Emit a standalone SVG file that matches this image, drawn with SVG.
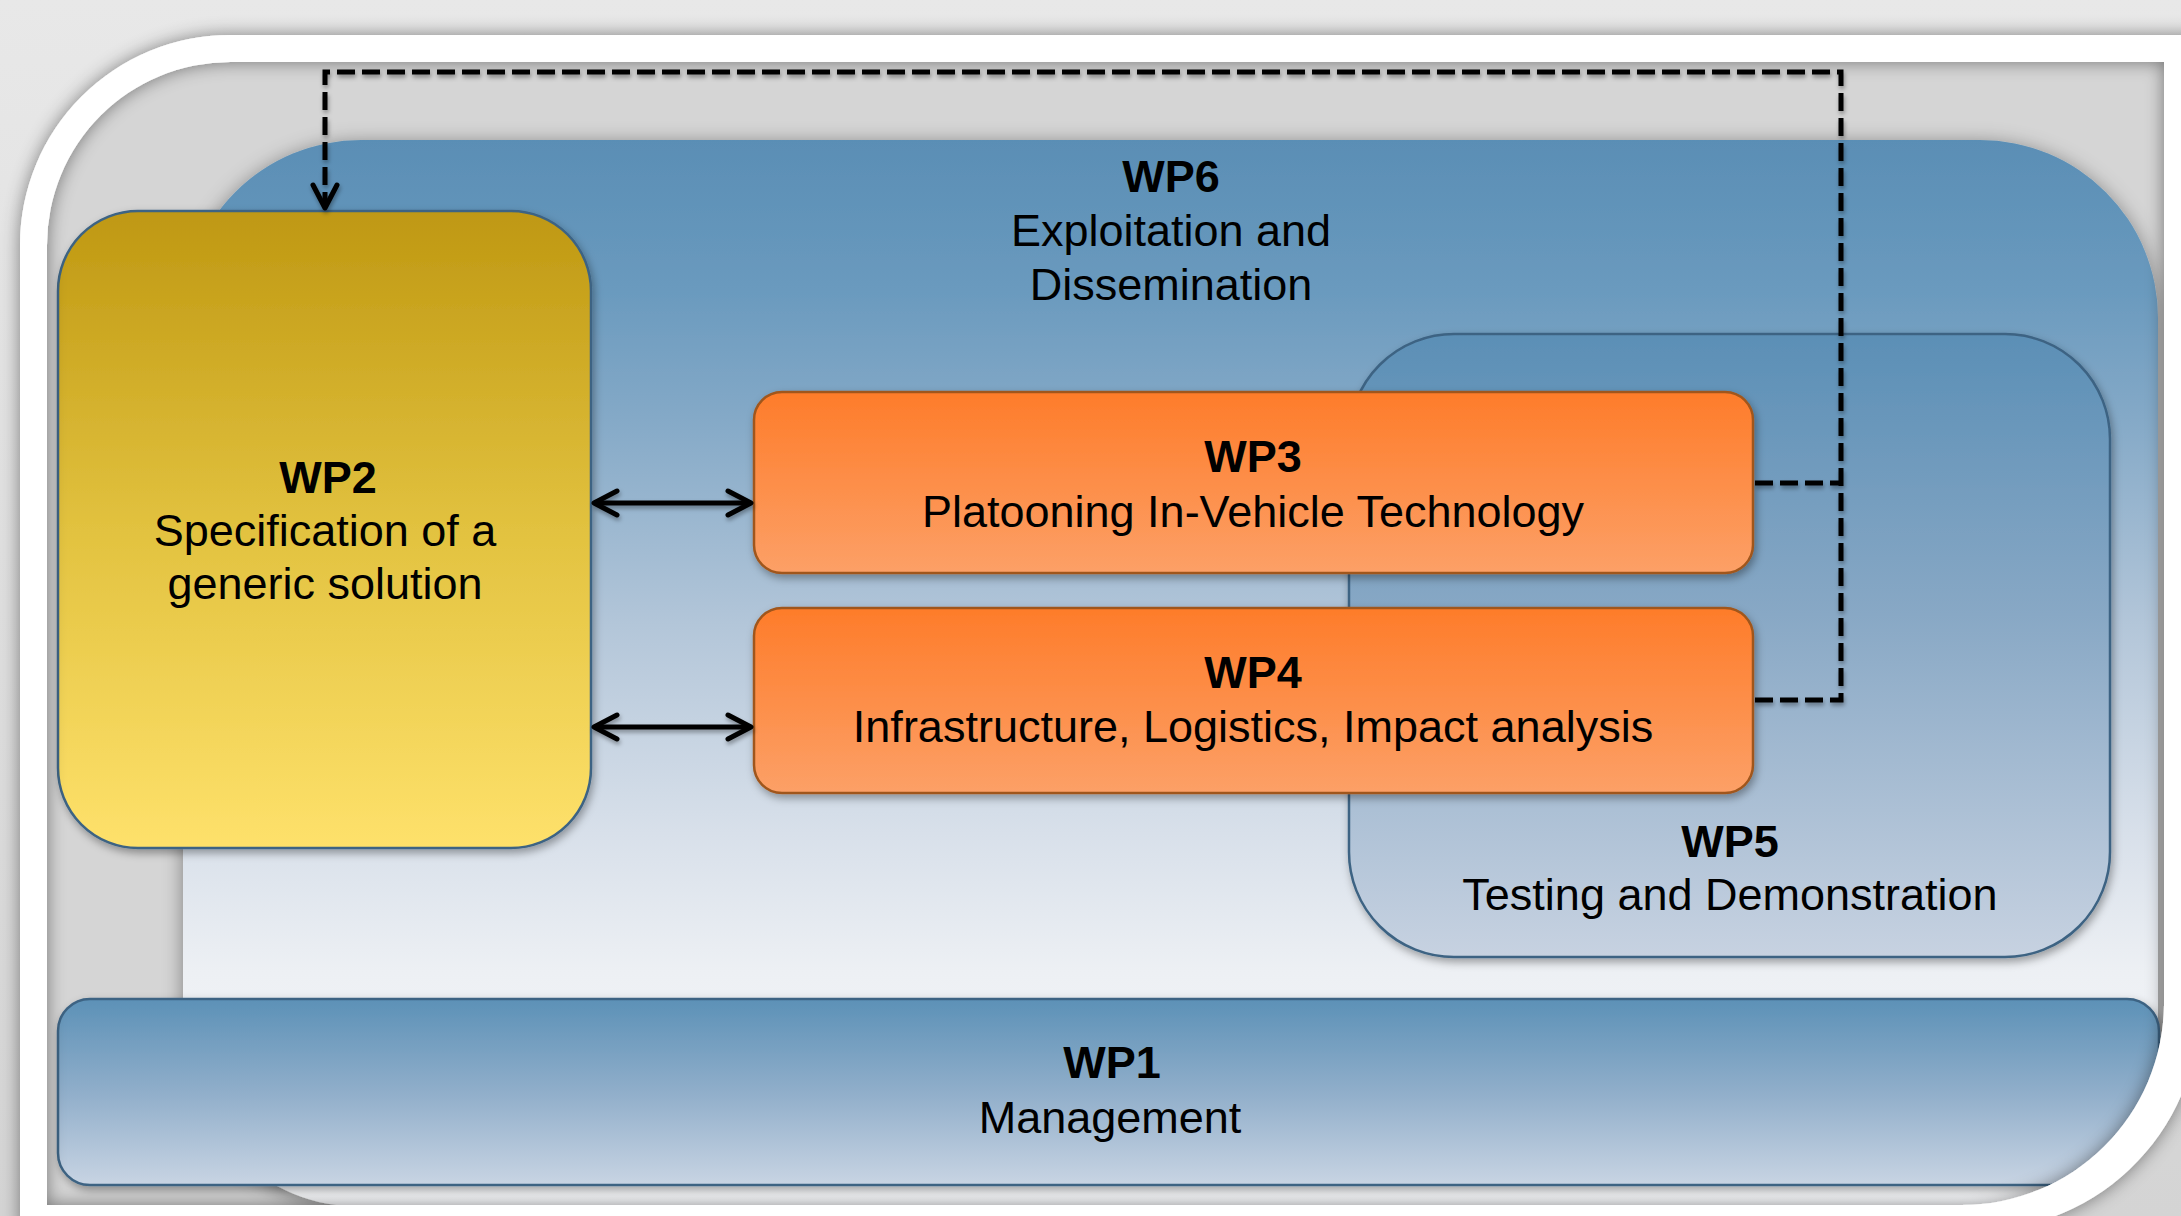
<svg xmlns="http://www.w3.org/2000/svg" width="2181" height="1216" viewBox="0 0 2181 1216">
  <defs>
    <linearGradient id="gBg" x1="0" y1="0" x2="0" y2="1">
      <stop offset="0" stop-color="#e8e8e8"/>
      <stop offset="1" stop-color="#d4d4d4"/>
    </linearGradient>
    <linearGradient id="gWP6" x1="0" y1="0" x2="0" y2="1">
      <stop offset="0" stop-color="#5a8eb5"/>
      <stop offset="0.14" stop-color="#6a9abe"/>
      <stop offset="0.26" stop-color="#84a9c7"/>
      <stop offset="0.455" stop-color="#b3c6d9"/>
      <stop offset="0.65" stop-color="#d8e0ea"/>
      <stop offset="0.78" stop-color="#edf0f4"/>
      <stop offset="1" stop-color="#f8f9fb"/>
    </linearGradient>
    <linearGradient id="gWP5" x1="0" y1="0" x2="0" y2="1">
      <stop offset="0" stop-color="#5b8fb6"/>
      <stop offset="0.45" stop-color="#88a8c5"/>
      <stop offset="1" stop-color="#c7d2e1"/>
    </linearGradient>
    <linearGradient id="gWP1" x1="0" y1="0" x2="0" y2="1">
      <stop offset="0" stop-color="#5c91b7"/>
      <stop offset="0.5" stop-color="#90aeca"/>
      <stop offset="1" stop-color="#c8d4e3"/>
    </linearGradient>
    <linearGradient id="gWP2" x1="0" y1="0" x2="0" y2="1">
      <stop offset="0" stop-color="#bf9812"/>
      <stop offset="0.5" stop-color="#e2c23f"/>
      <stop offset="1" stop-color="#fee16b"/>
    </linearGradient>
    <linearGradient id="gOr" x1="0" y1="0" x2="0" y2="1">
      <stop offset="0" stop-color="#fe7c2a"/>
      <stop offset="1" stop-color="#fca067"/>
    </linearGradient>
    <clipPath id="inner">
      <path d="M47,245 A183,183 0 0 1 230,62 H2164 V1005 A202,202 0 0 1 1962,1205 H47 Z"/>
    </clipPath>
    <filter id="shBox" x="-5%" y="-5%" width="112%" height="120%">
      <feDropShadow dx="2" dy="4" stdDeviation="4" flood-color="#000" flood-opacity="0.35"/>
    </filter>
    <filter id="shBig" x="-5%" y="-5%" width="110%" height="115%">
      <feDropShadow dx="0" dy="3" stdDeviation="10" flood-color="#000" flood-opacity="0.4"/>
    </filter>
    <filter id="shFrame" x="-5%" y="-10%" width="110%" height="120%">
      <feDropShadow dx="0" dy="0" stdDeviation="9" flood-color="#000" flood-opacity="0.45"/>
    </filter>
    <filter id="shLine" x="-5%" y="-5%" width="110%" height="110%">
      <feDropShadow dx="1" dy="3" stdDeviation="2" flood-color="#000" flood-opacity="0.35"/>
    </filter>
    <marker id="arr" markerUnits="userSpaceOnUse" viewBox="0 0 30 30" markerWidth="30" markerHeight="30" refX="26" refY="15" orient="auto-start-reverse">
      <path d="M3,3 L26,15 L3,27" fill="none" stroke="#000" stroke-width="5" stroke-linecap="round" stroke-linejoin="round"/>
    </marker>
    <style>
      .lbl { font-family: "Liberation Sans", Arial, sans-serif; font-size: 45px; fill: #000; text-anchor: middle; }
      .b { font-weight: bold; }
      .blue { stroke: #3d6383; stroke-width: 2.5; }
      .or { fill: url(#gOr); stroke: #a0561c; stroke-width: 2.5; }
      .solid { fill: none; stroke: #000; stroke-width: 5; }
      .dash { fill: none; stroke: #000; stroke-width: 5; stroke-dasharray: 18 7; }
    </style>
  </defs>

  <!-- page background and frame -->
  <rect x="0" y="0" width="2181" height="1216" fill="url(#gBg)"/>
  <path d="M20,245 A210,210 0 0 1 230,35 H2200 V1005 A226,226 0 0 1 1962,1231 H20 Z" fill="#ffffff"/>
  <path d="M47,245 A183,183 0 0 1 230,62 H2164 V1005 A202,202 0 0 1 1962,1205 H47 Z" fill="#d5d5d5"/>

  <g clip-path="url(#inner)">
    <g id="wp6">
      <rect x="183" y="140" width="1975" height="1067" rx="178" fill="url(#gWP6)" filter="url(#shBig)"/>
      <text class="lbl b" x="1171" y="192">WP6</text>
      <text class="lbl" x="1171" y="246">Exploitation and</text>
      <text class="lbl" x="1171" y="300">Dissemination</text>
    </g>

    <g id="wp5">
      <rect x="1349" y="334" width="761" height="623" rx="105" fill="url(#gWP5)" class="blue" filter="url(#shBox)"/>
      <text class="lbl b" x="1730" y="857">WP5</text>
      <text class="lbl" x="1730" y="910">Testing and Demonstration</text>
    </g>

    <g id="wp1">
      <rect x="58" y="999" width="2101" height="186" rx="32" fill="url(#gWP1)" class="blue" filter="url(#shBox)"/>
      <text class="lbl b" x="1112" y="1078">WP1</text>
      <text class="lbl" x="1110" y="1133">Management</text>
    </g>

    <g id="wp2">
      <rect x="58" y="211" width="533" height="637" rx="80" fill="url(#gWP2)" class="blue" filter="url(#shBox)"/>
      <text class="lbl b" x="328" y="493">WP2</text>
      <text class="lbl" x="325" y="546">Specification of a</text>
      <text class="lbl" x="325" y="599">generic solution</text>
    </g>

    <g id="wp3">
      <rect x="754" y="392" width="999" height="181" rx="28" class="or" filter="url(#shBox)"/>
      <text class="lbl b" x="1253" y="472">WP3</text>
      <text class="lbl" x="1253" y="527">Platooning In-Vehicle Technology</text>
    </g>

    <g id="wp4">
      <rect x="754" y="608" width="999" height="185" rx="28" class="or" filter="url(#shBox)"/>
      <text class="lbl b" x="1253" y="688">WP4</text>
      <text class="lbl" x="1253" y="742">Infrastructure, Logistics, Impact analysis</text>
    </g>

    <g id="connectors" filter="url(#shLine)">
      <path class="solid" d="M594,503 H751" marker-start="url(#arr)" marker-end="url(#arr)"/>
      <path class="solid" d="M594,727 H751" marker-start="url(#arr)" marker-end="url(#arr)"/>
      <path class="dash" d="M1755,483 H1841"/>
      <path class="dash" d="M1755,700 H1841 V72 H325 V208" marker-end="url(#arr)"/>
    </g>
  </g>

  <!-- frame band drawn over content -->
  <path fill="#ffffff" fill-rule="evenodd" filter="url(#shFrame)" d="M20,245 A210,210 0 0 1 230,35 H2200 V1005 A226,226 0 0 1 1962,1231 H20 Z M47,245 A183,183 0 0 1 230,62 H2164 V1005 A202,202 0 0 1 1962,1205 H47 Z"/>
</svg>
